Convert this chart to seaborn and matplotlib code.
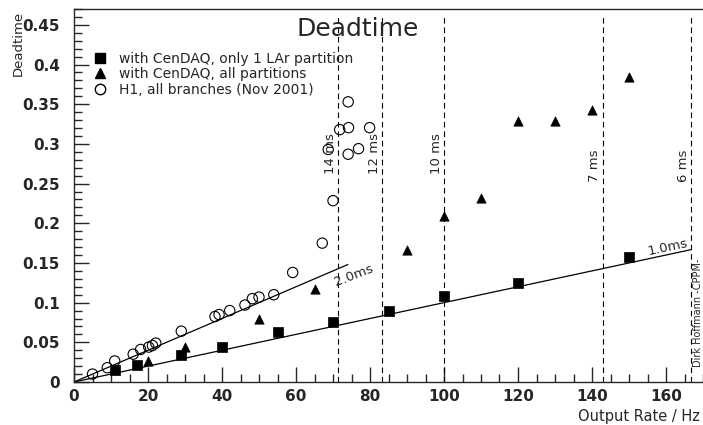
import numpy as np
import pandas as pd
import seaborn as sns
import matplotlib.pyplot as plt
from matplotlib.lines import Line2D
from matplotlib.ticker import MultipleLocator

# with CenDAQ, only 1 LAr partition (squares)
sq_rate = [11, 17, 29, 40, 55, 70, 85, 100, 120, 150]
sq_dt = [0.0145, 0.0215, 0.034, 0.0435, 0.0625, 0.076, 0.089, 0.108, 0.125, 0.157]

# with CenDAQ, all partitions (triangles)
tri_rate = [20, 30, 50, 65, 90, 100, 110, 120, 130, 140, 150]
tri_dt = [0.0265, 0.0445, 0.079, 0.117, 0.1665, 0.209, 0.232, 0.329, 0.329, 0.343, 0.384]

# H1, all branches (Nov 2001) (open circles)
h1_rate = [5, 9, 11, 16, 18, 20.2, 21.2, 22.1, 29, 38.1, 39.2, 42.1, 46.2, 48.2,
           50, 54, 59.1, 67.1, 70, 68.7, 71.8, 74.2, 74.1, 74.1, 76.9, 79.9]
h1_dt = [0.010, 0.018, 0.0265, 0.035, 0.041, 0.044, 0.046, 0.049, 0.064, 0.0825,
         0.085, 0.090, 0.097, 0.105, 0.107, 0.110, 0.138, 0.175, 0.2285, 0.293,
         0.318, 0.3205, 0.353, 0.287, 0.294, 0.3205]

# fixed deadtime model lines
line1_rate = [0, 166.7]
line1_dt = [0, 0.1667]
line2_rate = [0, 74]
line2_dt = [0, 0.148]

# readout time limits
limit_ms = [14, 12, 10, 7, 6]
limit_labels = ["14 ms", "12 ms", "10 ms", "7 ms", "6 ms"]
limit_label_y = [0.262, 0.262, 0.262, 0.252, 0.252]

legend_labels = ["with CenDAQ, only 1 LAr partition",
                 "with CenDAQ, all partitions",
                 "H1, all branches (Nov 2001)"]

sns.set_style("ticks")
plt.rcParams['font.family'] = ['DejaVu Sans']

fig = plt.figure(figsize=(7.03, 4.25), dpi=100)
ax = fig.add_axes([74 / 703, 1 - 382 / 425, 1 - 74 / 703, (382 - 9) / 425])

# dashed vertical lines
for ms, lab, ly in zip(limit_ms, limit_labels, limit_label_y):
    rate = 1000.0 / ms
    sns.lineplot(x=[rate, rate], y=[0, 0.46], ax=ax, color="black", lw=0.8,
                 estimator=None, sort=False, linestyle=(0, (5, 3.5)), zorder=1)
    ax.text(rate - 0.3, ly, lab, rotation=90, ha="right", va="bottom", fontsize=9.5)

# model lines
sns.lineplot(x=line1_rate, y=line1_dt, ax=ax, color="black", lw=0.9,
             estimator=None, sort=False, zorder=2)
sns.lineplot(x=line2_rate, y=line2_dt, ax=ax, color="black", lw=0.9,
             estimator=None, sort=False, zorder=2)
ax.text(75.5, 0.134, "2.0ms", rotation=21, ha="center", va="center", fontsize=9.5)
ax.text(160.5, 0.1695, "1.0ms", rotation=12, ha="center", va="center", fontsize=9.5)

# data points
sns.scatterplot(x=sq_rate, y=sq_dt, ax=ax, marker="s", s=60, color="black",
                edgecolor="black", linewidth=0.5, zorder=3)
sns.scatterplot(x=tri_rate, y=tri_dt, ax=ax, marker="^", s=45, color="black",
                edgecolor="black", linewidth=0.5, zorder=3)
sns.scatterplot(x=h1_rate, y=h1_dt, ax=ax, marker="o", s=55, facecolor="none",
                edgecolor="black", linewidth=0.8, zorder=3)

ax.set_xlim(0, 170)
ax.set_ylim(0, 0.47)
ax.xaxis.set_major_locator(MultipleLocator(20))
ax.xaxis.set_minor_locator(MultipleLocator(5))
ax.yaxis.set_major_locator(MultipleLocator(0.05))
ax.yaxis.set_minor_locator(MultipleLocator(0.01))
ax.set_yticks(np.arange(0, 0.46, 0.05))
ax.set_yticklabels(["0", "0.05", "0.1", "0.15", "0.2", "0.25", "0.3", "0.35", "0.4", "0.45"])
ax.tick_params(axis="both", which="major", direction="in", length=11, width=1,
               labelsize=11)
ax.tick_params(axis="both", which="minor", direction="in", length=6, width=1)
ax.tick_params(axis="y", pad=10)
ax.tick_params(axis="x", pad=5)
for lab in ax.get_xticklabels() + ax.get_yticklabels():
    lab.set_fontweight("bold")
ax.spines["right"].set_visible(False)
for sp in ["left", "bottom", "top"]:
    ax.spines[sp].set_linewidth(1)
ax.set_xlabel("")
ax.set_ylabel("")

handles = [
    Line2D([], [], marker="s", color="black", linestyle="none", markersize=7),
    Line2D([], [], marker="^", color="black", linestyle="none", markersize=7),
    Line2D([], [], marker="o", markerfacecolor="none", markeredgecolor="black",
           linestyle="none", markersize=7.5),
]
ax.legend(handles, legend_labels, loc="upper left", frameon=False, fontsize=10,
          bbox_to_anchor=(95 / 703 - 74 / 703, 0.885), bbox_transform=ax.transAxes,
          handlelength=1.0, handletextpad=0.9, labelspacing=0.1, borderpad=0,
          borderaxespad=0)

fig.text(358 / 703, 1 - 29 / 425, "Deadtime", ha="center", va="center", fontsize=18)
fig.text(18 / 703, 1 - 11 / 425, "Deadtime", ha="center", va="top", rotation=90,
         fontsize=9.5)
fig.text(700 / 703, 1 - 416 / 425, "Output Rate / Hz", ha="right", va="center",
         fontsize=10.5)
ax.text(168.6, 0.019, "Dirk Hoffmann -CPPM-", rotation=90, ha="center", va="bottom",
        fontsize=7)

fig.savefig("out.png", dpi=100)
